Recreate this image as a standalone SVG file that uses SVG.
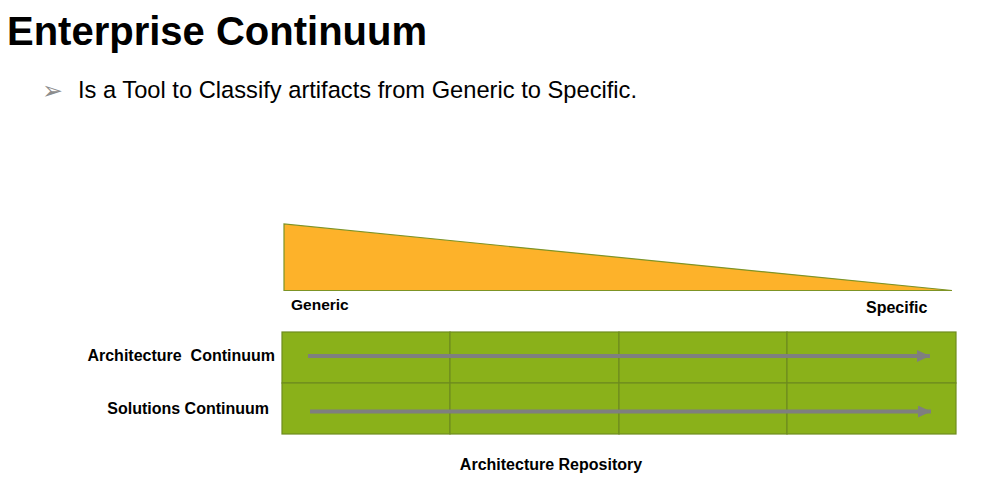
<svg xmlns="http://www.w3.org/2000/svg" width="997" height="488" viewBox="0 0 997 488">
<defs>
<style>
.b{font-family:"Liberation Sans",Arial,sans-serif;font-weight:bold;fill:#000}
.cell{fill:#8AB11A;stroke:#6E8C1E;stroke-width:1.2}
.arr{stroke:#7F7F7F;stroke-width:4;fill:none}
</style>
<marker id="ah" markerWidth="13" markerHeight="12" refX="13" refY="6" orient="auto" markerUnits="userSpaceOnUse">
<path d="M0,0 L13,6 L0,12 Z" fill="#7F7F7F"/>
</marker>
</defs>
<rect width="997" height="488" fill="#fff"/>
<text class="b" x="7" y="45" font-size="40">Enterprise Continuum</text>
<text x="42" y="99" font-family="DejaVu Sans,sans-serif" font-size="25" fill="#8C8C8C">➢</text>
<text x="78" y="98" font-family="Liberation Sans,Arial,sans-serif" font-size="23.7" fill="#000">Is a Tool to Classify artifacts from Generic to Specific.</text>
<g id="wedge">
<polygon points="284,224 284,290.5 952,290.5" fill="#FDB22A" stroke="#7D9325" stroke-width="1.2"/>
</g>
<text class="b" x="291" y="310" font-size="15.5">Generic</text>
<text class="b" x="866" y="313" font-size="16">Specific</text>
<g id="grid">
<rect class="cell" x="282" y="332" width="168" height="51"/>
<rect class="cell" x="450" y="332" width="169" height="51"/>
<rect class="cell" x="619" y="332" width="168" height="51"/>
<rect class="cell" x="787" y="332" width="169" height="51"/>
<rect class="cell" x="282" y="383" width="168" height="51"/>
<rect class="cell" x="450" y="383" width="169" height="51"/>
<rect class="cell" x="619" y="383" width="168" height="51"/>
<rect class="cell" x="787" y="383" width="169" height="51"/>
</g>
<g id="connectors">
<line class="arr" x1="308" y1="356" x2="930" y2="356" marker-end="url(#ah)"/>
<line class="arr" x1="310" y1="411.5" x2="931" y2="411.5" marker-end="url(#ah)"/>
</g>
<text class="b" x="275" y="361" font-size="16" text-anchor="end" xml:space="preserve">Architecture  Continuum</text>
<text class="b" x="269" y="414" font-size="16" text-anchor="end">Solutions Continuum</text>
<text class="b" x="551" y="470" font-size="16" text-anchor="middle">Architecture Repository</text>
</svg>
